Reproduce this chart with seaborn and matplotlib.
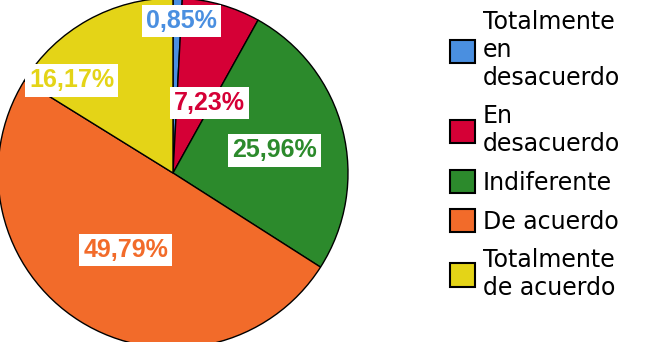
import matplotlib
matplotlib.use("Agg")
import matplotlib.pyplot as plt
import seaborn as sns

# Datos del gráfico
categorias = ["Totalmente\nen\ndesacuerdo", "En\ndesacuerdo", "Indiferente",
              "De acuerdo", "Totalmente\nde acuerdo"]
porcentajes = [0.85, 7.23, 25.96, 49.79, 16.17]
colores = ["#4a8fe0", "#d50036", "#2c8a2c", "#f26b2a", "#e4d417"]
# desplazamiento de cada etiqueta (x, y) respecto al centro del pie
pos_etiquetas = [(0.05, 0.87), (0.21, 0.40), (0.58, 0.13), (-0.27, -0.44), (-0.58, 0.53)]

sns.set_theme(style="white")
plt.rcParams["font.family"] = ["DejaVu Sans"]
plt.rcParams["text.color"] = "black"
paleta = sns.color_palette(colores)

fig = plt.figure(figsize=(6.47, 3.42), dpi=100)
W, H = 647, 342
cx, cy, r = 173, 173, 175
ax = fig.add_axes([(cx - r) / W, (H - cy - r) / H, 2 * r / W, 2 * r / H])

wedges, _ = ax.pie(porcentajes, colors=paleta, startangle=90, counterclock=False,
                   radius=1, wedgeprops=dict(edgecolor="black", linewidth=1.0))
ax.set_xlim(-1, 1)
ax.set_ylim(-1, 1)
ax.set_aspect("equal")
ax.axis("off")

for v, c, (x, y) in zip(porcentajes, paleta, pos_etiquetas):
    ax.text(x, y, f"{v:.2f}".replace(".", ",") + "%", color=c, ha="center", va="center",
            fontsize=18, fontweight="bold", family=["Liberation Sans"],
            bbox=dict(facecolor="white", edgecolor="none", pad=3))

leg = fig.legend(wedges, categorias, loc="upper left", bbox_to_anchor=(450 / W, 0.97),
                 frameon=False, fontsize=17, borderpad=0, borderaxespad=0,
                 handlelength=1.05, handleheight=1.15, handletextpad=0.35,
                 labelspacing=0.6, labelcolor="black")
for h in leg.legend_handles:
    h.set_edgecolor("black")
    h.set_linewidth(1.5)

fig.savefig("out.png", dpi=100)
